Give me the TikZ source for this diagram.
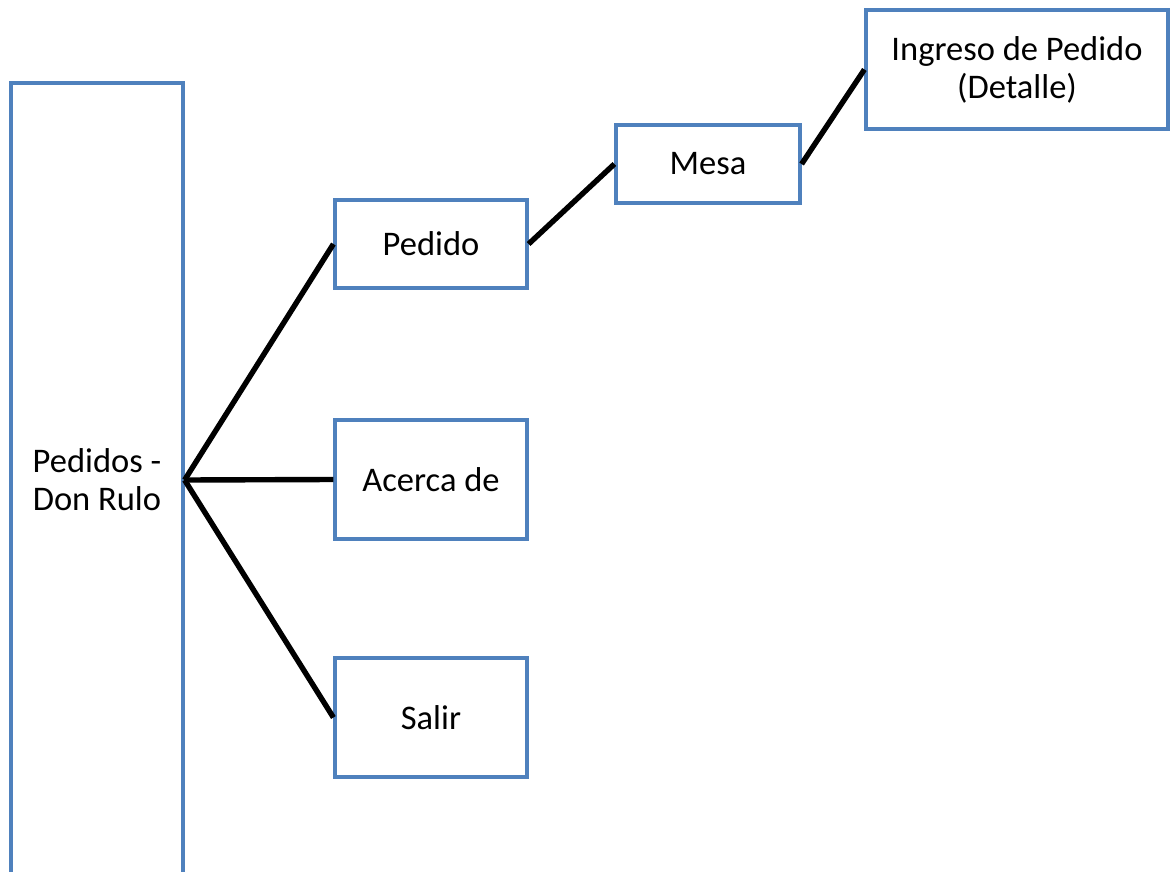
\documentclass[tikz,border=0pt]{standalone}
\usepackage{fontspec}
\setmainfont{Carlito}
\definecolor{boxblue}{HTML}{4F81BD}
\begin{document}
\begin{tikzpicture}[x=1pt,y=1pt,
  box/.style={draw=boxblue, line width=3.2pt, fill=white, align=center,
    inner sep=0pt, font=\fontsize{34.5}{38}\selectfont},
  link/.style={draw=black, line width=5.4pt}]
\useasboundingbox (0,0) rectangle (1170,-872);
\fill[white] (0,0) rectangle (1170,-872);
\clip (0,0) rectangle (1170,-872);
\node[box, minimum width=172, minimum height=794] (main) at (97,-480) {Pedidos -\\Don Rulo};
\node[box, minimum width=192, minimum height=88] (pedido) at (431,-244) {Pedido};
\node[box, minimum width=192, minimum height=119] (acerca) at (431,-479.5) {Acerca de};
\node[box, minimum width=192, minimum height=119] (salir) at (431,-717.5) {Salir};
\node[box, minimum width=184, minimum height=78] (mesa) at (708,-164) {Mesa};
\node[box, minimum width=302, minimum height=119] (ingreso) at (1017,-69.5) {Ingreso de Pedido\\(Detalle)};
\draw[link] (main.east) -- (pedido.west);
\draw[link] (main.east) -- (acerca.west);
\draw[link] (main.east) -- (salir.west);
\draw[link] (pedido.east) -- (mesa.west);
\draw[link] (mesa.east) -- (ingreso.west);
\end{tikzpicture}
\end{document}
